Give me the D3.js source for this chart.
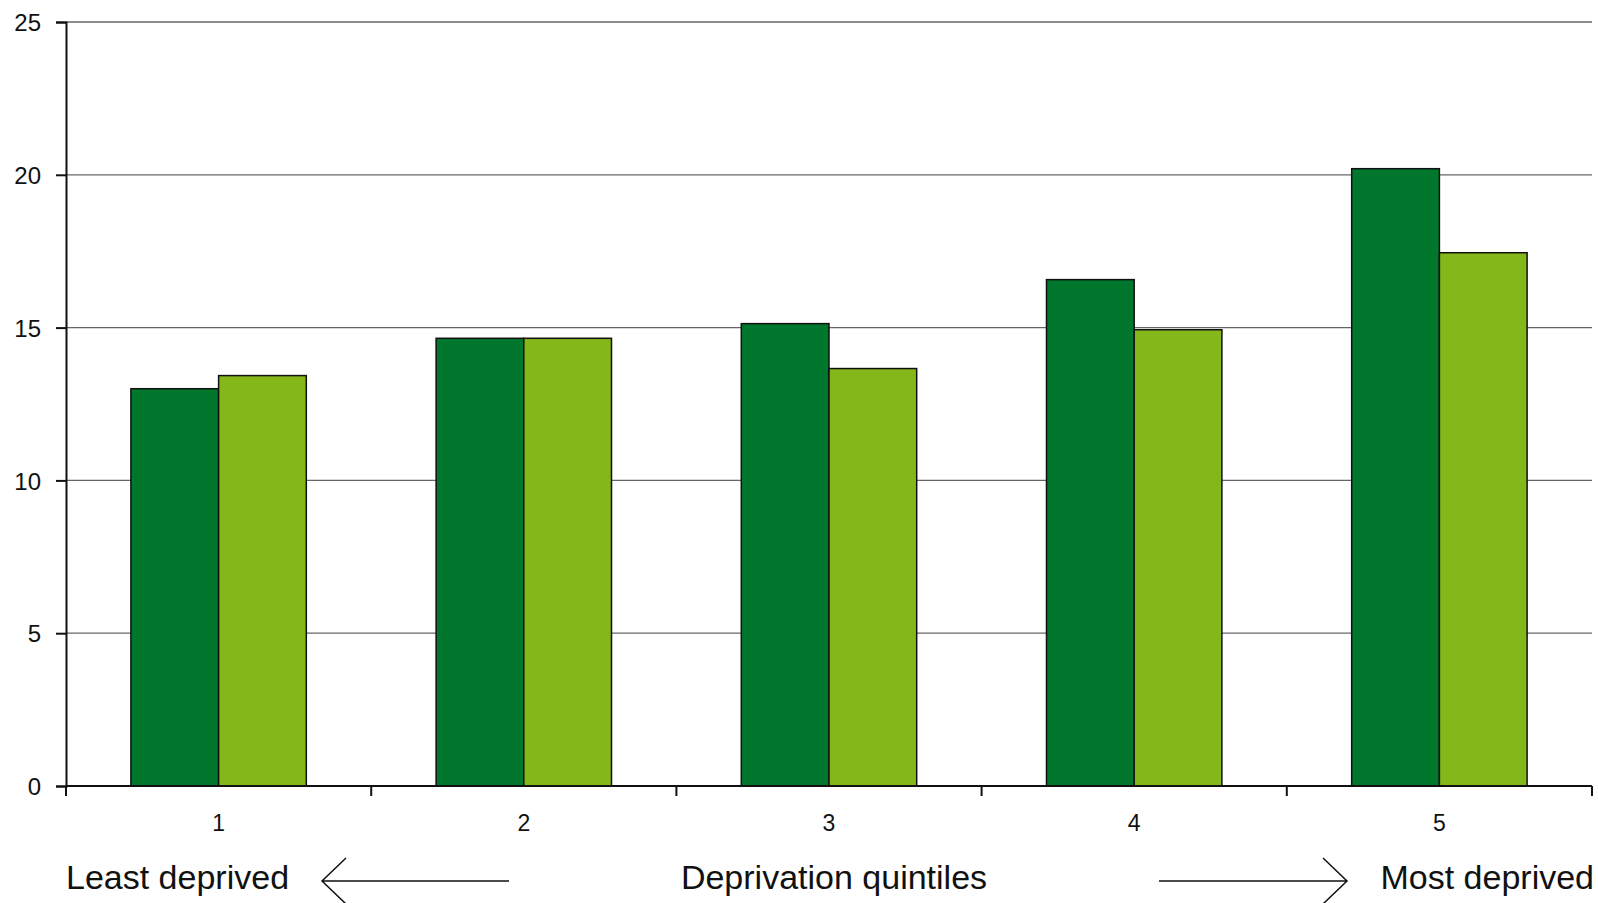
<!DOCTYPE html>
<html>
<head>
<meta charset="utf-8">
<script src="https://cdn.jsdelivr.net/npm/d3@7"></script>
<style>
  body { margin: 0; background: #fff; }
  svg { font-family: "Liberation Sans", Arial, Helvetica, sans-serif; }
</style>
</head>
<body>
<svg id="chart"></svg>
<script>
const quintiles = ["1", "2", "3", "4", "5"];
const seriesNames = ["dark", "light"];
const darkValues = [13.0, 14.65, 15.13, 16.57, 20.2];
const lightValues = [13.43, 14.65, 13.66, 14.93, 17.45];
const yTicks = [0, 5, 10, 15, 20, 25];

const width = 1598, height = 903;
const margin = { top: 22, right: 6, bottom: 117, left: 66 };
const chartWidth = width - margin.left - margin.right;
const chartHeight = height - margin.top - margin.bottom;

const colors = { dark: "#00772c", light: "#84b71a" };

const svg = d3.select("#chart")
  .attr("width", width)
  .attr("height", height);

const g = svg.append("g").attr("transform", `translate(${margin.left},${margin.top})`);

const x0 = d3.scaleBand()
  .domain(quintiles)
  .range([0, chartWidth])
  .padding(0);

const x1 = d3.scaleBand()
  .domain(seriesNames)
  .range([0, x0.bandwidth()])
  .paddingInner(0)
  .paddingOuter(0.74);

const y = d3.scaleLinear()
  .domain([0, 25])
  .range([chartHeight, 0]);

// gridlines
g.append("g")
  .selectAll("line")
  .data(yTicks.filter(d => d > 0))
  .enter().append("line")
  .attr("x1", 0)
  .attr("x2", chartWidth)
  .attr("y1", d => y(d))
  .attr("y2", d => y(d))
  .style("stroke", "#666")
  .style("stroke-width", 1.3);

const rows = quintiles.map((q, i) => ({
  q,
  vals: [
    { key: "dark", value: darkValues[i] },
    { key: "light", value: lightValues[i] }
  ]
}));

g.selectAll(".group")
  .data(rows)
  .enter().append("g")
  .attr("class", "group")
  .attr("transform", d => `translate(${x0(d.q)},0)`)
  .selectAll("rect")
  .data(d => d.vals)
  .enter().append("rect")
  .attr("x", d => x1(d.key))
  .attr("y", d => y(d.value))
  .attr("width", x1.bandwidth())
  .attr("height", d => chartHeight - y(d.value))
  .attr("fill", d => colors[d.key])
  .style("stroke", "#111")
  .style("stroke-width", 1.5);

// y axis
const yAxis = g.append("g")
  .call(d3.axisLeft(y).tickValues(yTicks).tickSize(10).tickPadding(15));
yAxis.select(".domain").style("stroke", "#111").style("stroke-width", 2);
yAxis.selectAll(".tick line").style("stroke", "#111").style("stroke-width", 2);
yAxis.selectAll(".tick text")
  .style("font-size", "24px")
  .style("fill", "#111")
  .attr("dy", "0.36em");

// x axis: ticks between groups, labels at centres
const xAxis = g.append("g")
  .attr("transform", `translate(0,${chartHeight})`);
xAxis.append("line")
  .attr("x1", 0).attr("x2", chartWidth)
  .style("stroke", "#111").style("stroke-width", 2);
xAxis.selectAll(".xtick")
  .data(quintiles.concat(["end"]))
  .enter().append("line")
  .attr("x1", (d, i) => i * x0.step())
  .attr("x2", (d, i) => i * x0.step())
  .attr("y1", 0).attr("y2", 10)
  .style("stroke", "#111").style("stroke-width", 2);
xAxis.selectAll(".xlabel")
  .data(quintiles)
  .enter().append("text")
  .attr("x", d => x0(d) + x0.bandwidth() / 2)
  .attr("y", 45)
  .attr("text-anchor", "middle")
  .style("font-size", "23px")
  .style("fill", "#111")
  .text(d => d);

// bottom annotation
const noteY = 889;
const note = svg.append("g").style("fill", "#111").style("font-size", "34px");
note.append("text").attr("x", 66).attr("y", noteY).text("Least deprived");
note.append("text").attr("x", 834).attr("y", noteY).attr("text-anchor", "middle").text("Deprivation quintiles");
note.append("text").attr("x", 1594).attr("y", noteY).attr("text-anchor", "end").text("Most deprived");

const arrows = svg.append("g").style("fill", "none").style("stroke", "#111").style("stroke-width", 1.5);
arrows.append("path").attr("d", "M509,881 L322,881 M346,858 L322,881 L346,904");
arrows.append("path").attr("d", "M1159,881 L1347,881 M1323,858 L1347,881 L1323,904");
</script>
</body>
</html>
